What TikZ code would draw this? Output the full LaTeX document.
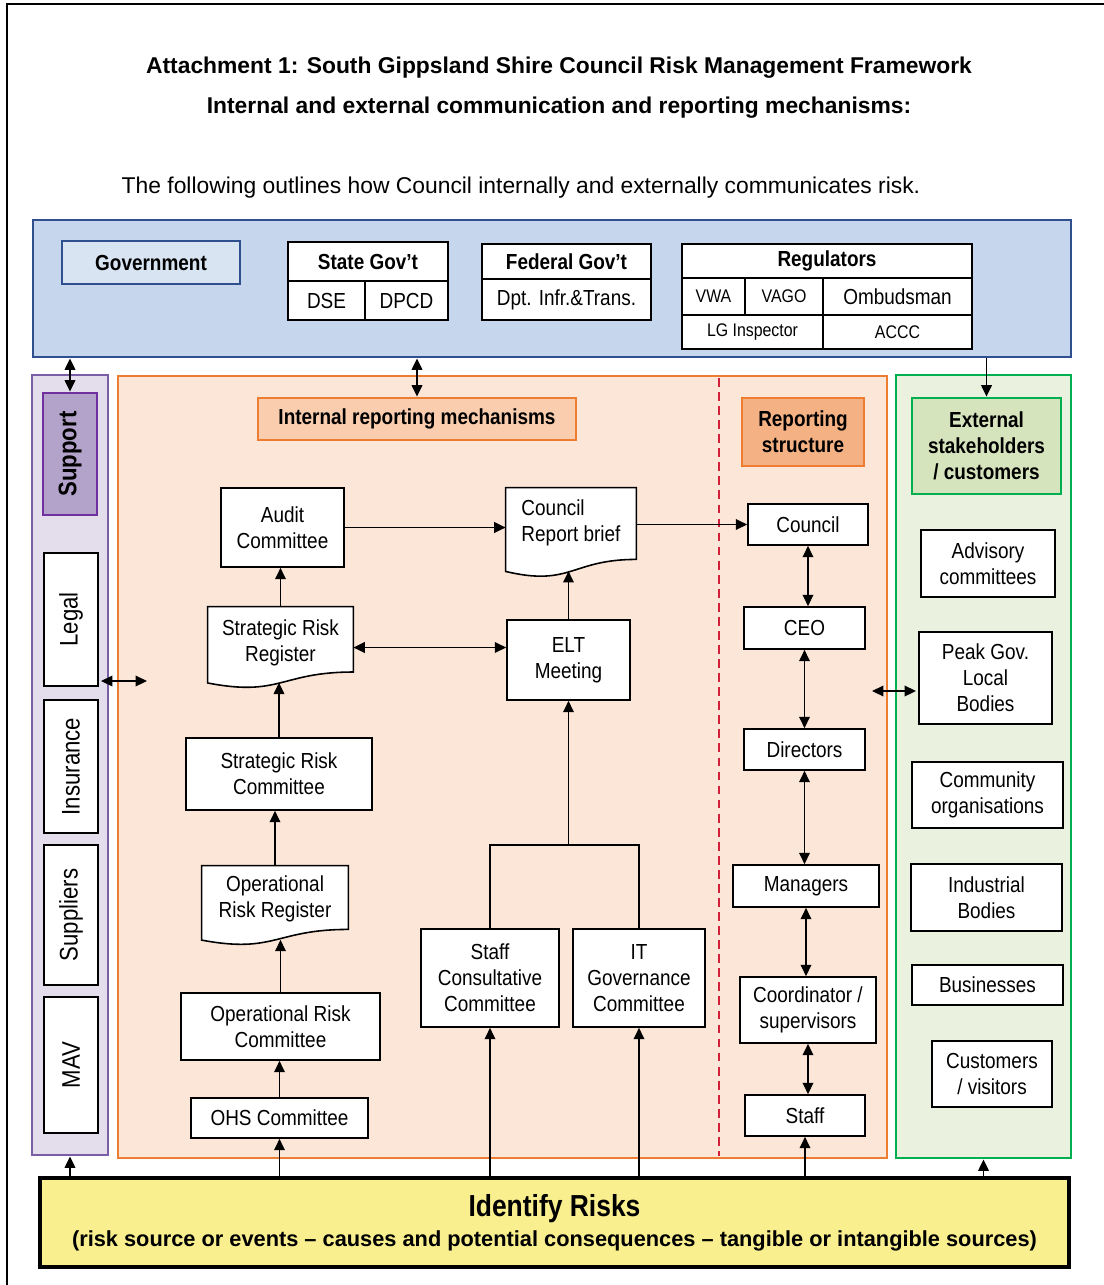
\documentclass[tikz,border=0pt]{standalone}
\usepackage{fontspec}
\setmainfont{Liberation Sans}
\newfontfamily\narrowfont[FakeStretch=0.87]{Liberation Sans}
\usetikzlibrary{arrows.meta,calc,backgrounds}

\definecolor{bandblue}{HTML}{C6D6EC}
\definecolor{bandline}{HTML}{2F4F8F}
\definecolor{govfill}{HTML}{D9E4F2}
\definecolor{supfill}{HTML}{E4DEEC}
\definecolor{supline}{HTML}{7A5FA6}
\definecolor{supdark}{HTML}{B3A3CB}
\definecolor{supdarkline}{HTML}{7030A0}
\definecolor{orgfill}{HTML}{FCE6D8}
\definecolor{orgline}{HTML}{ED7D31}
\definecolor{orglight}{HTML}{F9CDAE}
\definecolor{orgdark}{HTML}{F4B183}
\definecolor{grnfill}{HTML}{EAF1DE}
\definecolor{grnline}{HTML}{00B050}
\definecolor{grndark}{HTML}{D6E4BE}
\definecolor{riskfill}{HTML}{F9EF8E}
\definecolor{dashred}{HTML}{D0203A}

\newcommand\px{0.02cm}
\newcommand\boxfont{\narrowfont\fontsize{12.4}{14.8}\selectfont}
\newcommand\smallbox{\narrowfont\fontsize{10.4}{12}\selectfont}

\tikzset{
  sz/.style 2 args={minimum width=#1*\px, minimum height=#2*\px},
  box/.style={draw=black, fill=white, line width=0.9pt, align=center, inner sep=1pt, font=\boxfont},
  head/.style={box, font=\boxfont\bfseries},
  docbox/.style={align=center, inner sep=1pt, font=\boxfont},
  panel/.style={draw=#1, line width=1.6pt},
  side/.style={box, rotate=90, font=\narrowfont\fontsize{14.5}{16}\selectfont},
  arr/.style={-{Triangle[length=6.5pt,width=6pt]}, line width=1pt},
  darr/.style={{Triangle[length=6.5pt,width=6pt]}-{Triangle[length=6.5pt,width=6pt]}, line width=1pt},
}

\begin{document}
\begin{tikzpicture}[x=\px, y=-\px]
\useasboundingbox (0,0) rectangle (1104,1285);
\draw[line width=1.4pt] (7,1285) -- (7,4) -- (1104,4);

% headings
\node[font=\bfseries\fontsize{13}{15}\selectfont] (title) at (559,68)
  {Attachment 1: South Gippsland Shire Council Risk Management Framework};
\node[font=\bfseries\fontsize{13}{15}\selectfont] (subtitle) at (559,108)
  {Internal and external communication and reporting mechanisms:};
\node[font=\fontsize{13}{15}\selectfont] (intro) at (521,188)
  {The following outlines how Council internally and externally communicates risk.};

% panels
\begin{scope}[on background layer]
  \node[panel=bandline, fill=bandblue, sz={1038}{137}] (band) at (552,288.5) {};
  \node[panel=supline, fill=supfill, sz={76}{780}] (supcol) at (70,765) {};
  \node[panel=orgline, fill=orgfill, sz={769}{782}] (orgcol) at (502.5,767) {};
  \node[panel=grnline, fill=grnfill, sz={175}{783}] (grncol) at (983.5,766.5) {};
\end{scope}
\draw[dashed, dash pattern=on 5pt off 3pt, dashred, line width=1pt] (719,378) -- (719,1156);

% government
\node[panel=bandline, fill=govfill, sz={178}{43}, font=\boxfont\bfseries] (gov) at (151,262.5) {Government};
\node[head, sz={160}{39}] (state) at (368,261.5) {State Gov’t};
\node[box, sz={77}{39}] (dse) at (326.5,300.5) {DSE};
\node[box, sz={83}{39}] (dpcd) at (406.5,300.5) {DPCD};
\node[head, sz={169}{35}] (federal) at (566.5,261.5) {Federal Gov’t};
\node[box, sz={169}{41}] (dpt) at (566.5,299.5) {Dpt. Infr.\&Trans.};
\node[head, sz={290}{34}] (regs) at (827,261) {Regulators};
\node[box, sz={63}{37}, font=\smallbox] (vwa) at (713.5,296.5) {VWA};
\node[box, sz={78}{37}, font=\smallbox] (vago) at (784,296.5) {VAGO};
\node[box, sz={149}{37}] (ombud) at (897.5,296.5) {Ombudsman};
\node[box, sz={141}{34}, font=\smallbox] (lgi) at (752.5,332) {LG Inspector};
\node[box, sz={149}{34}, font=\smallbox] (accc) at (897.5,332) {ACCC};

% support column
\node[panel=supdarkline, fill=supdark, rotate=90, sz={122}{54},
  font=\narrowfont\bfseries\fontsize{14.5}{16}\selectfont] (support) at (70,454) {Support};
\node[side, sz={133}{54}] (legal) at (71,619.5) {Legal};
\node[side, sz={133}{54}] (insur) at (71,766.5) {Insurance};
\node[side, sz={140}{54}] (suppl) at (71,915) {Suppliers};
\node[side, sz={136}{54}] (mav) at (71,1065) {MAV};

% section headers
\node[panel=orgline, fill=orglight, sz={318}{42}, font=\boxfont\bfseries] (irm) at (417,419) {Internal reporting mechanisms};
\node[panel=orgline, fill=orgdark, sz={122}{68}, align=center, font=\boxfont\bfseries] (rstruct) at (803,432) {Reporting\\structure};
\node[panel=grnline, fill=grndark, sz={149}{96}, align=center, font=\boxfont\bfseries] (ext) at (986.5,446) {External\\stakeholders\\/ customers};

% internal reporting mechanisms
\node[box, sz={123}{79}] (audit) at (282.5,527.5) {Audit\\Committee};
\node[docbox, sz={145}{81}, text depth=7.8pt] (srr) at (280.5,647.5) {Strategic Risk\\Register};
\node[box, sz={186}{72}] (src) at (279,774) {Strategic Risk\\Committee};
\node[docbox, sz={146}{79}, text depth=10pt] (orr) at (275,905.5) {Operational\\Risk Register};
\node[box, sz={199}{67}] (orc) at (280.5,1026.5) {Operational Risk\\Committee};
\node[box, sz={177}{40}] (ohs) at (279.5,1118) {OHS Committee};
\node[docbox, sz={130}{89}, align=left, text depth=13pt] (crb) at (571,532.5) {Council\\Report brief};
\node[box, sz={123}{80}] (elt) at (568.5,660) {ELT\\Meeting};
\node[box, sz={138}{98}] (staffc) at (490,978) {Staff\\Consultative\\Committee};
\node[box, sz={132}{98}] (itgov) at (639,978) {IT\\Governance\\Committee};

% reporting structure
\node[box, sz={120}{41}] (council) at (808,524.5) {Council};
\node[box, sz={121}{42}] (ceo) at (804.5,628) {CEO};
\node[box, sz={121}{41}] (dirs) at (804.5,749.5) {Directors};
\node[box, sz={146}{42}] (mgrs) at (806,886) {Managers};
\node[box, sz={136}{66}] (coord) at (808,1010) {Coordinator /\\supervisors};
\node[box, sz={120}{41}] (rstaff) at (805,1115.5) {Staff};

% external stakeholders
\node[box, sz={134}{67}] (advis) at (988,563.5) {Advisory\\committees};
\node[box, sz={133}{92}] (peak) at (985.5,678) {Peak Gov.\\Local\\Bodies};
\node[box, sz={151}{66}] (commo) at (987.5,795) {Community\\organisations};
\node[box, sz={151}{67}] (indus) at (986.5,897.5) {Industrial\\Bodies};
\node[box, sz={151}{40}] (busin) at (987.5,985) {Businesses};
\node[box, sz={120}{66}] (custo) at (992,1074) {Customers\\/ visitors};

% identify risks
\node[draw=black, line width=2pt, fill=riskfill, sz={1029}{89}, align=center,
  font=\bfseries\fontsize{12.4}{17}\selectfont] (risk) at (554.5,1222.5)
  {{\narrowfont\fontsize{17.3}{19}\selectfont Identify Risks}\\(risk source or events – causes and potential consequences – tangible or intangible sources)};

% document outlines
\begin{scope}[on background layer]
  \foreach \d in {srr, orr, crb}
    \draw[line width=0.9pt, fill=white] (\d.north west) -- (\d.north east)
      -- ($(\d.north east)!0.8!(\d.south east)$)
      .. controls ($(\d.north)!0.8!(\d.south)$) and ($(\d.north)!1.107!(\d.south)$)
      .. ($(\d.north west)!0.934!(\d.south west)$) -- cycle;
\end{scope}
\coordinate (srrw) at ($(srr.north)!0.93!(srr.south)$);
\coordinate (orrw) at ($(orr.north)!0.93!(orr.south)$);
\coordinate (crbw) at ($(crb.north)!0.93!(crb.south)$);

% connectors
\draw[darr] (band.south -| support.east) -- (support.east);
\draw[darr] (band.south -| irm.north) -- (irm.north);
\draw[arr] (band.south -| ext.north) -- (ext.north);
\coordinate (supl) at (101,681);
\coordinate (orgl) at (147,681);
\draw[darr] (supl) -- (orgl);
\coordinate (orgr) at (872,691);
\coordinate (grnl) at (916,691);
\draw[darr] (orgr) -- (grnl);

\foreach \a/\b in {ohs.north/orc.south, orc.north/orrw, orr.north/src.south, src.north/srrw, srr.north/audit.south}
  \draw[arr] (\a) -- (\a |- \b);
\draw[arr] (audit.east) -- (audit.east -| crb.west);
\draw[darr] (srr.east) -- (srr.east -| elt.west);
\draw[arr] (elt.north) -- (elt.north |- crbw);
\draw[arr] (crb.east |- council.west) -- (council.west);
\coordinate (join) at (568.5,845);
\draw[line width=1pt] (staffc.north) |- (join) -| (itgov.north);
\draw[arr] (join) -- (elt.south);

\foreach \a/\b in {council/ceo, ceo/dirs, dirs/mgrs, mgrs/coord, coord/rstaff}
  \draw[darr] (\a.south) -- (\a.south |- \b.north);

\foreach \n in {supcol, ohs, staffc, itgov, rstaff, grncol}
  \draw[arr] (risk.north -| \n.south) -- (\n.south);
\end{tikzpicture}
\end{document}
